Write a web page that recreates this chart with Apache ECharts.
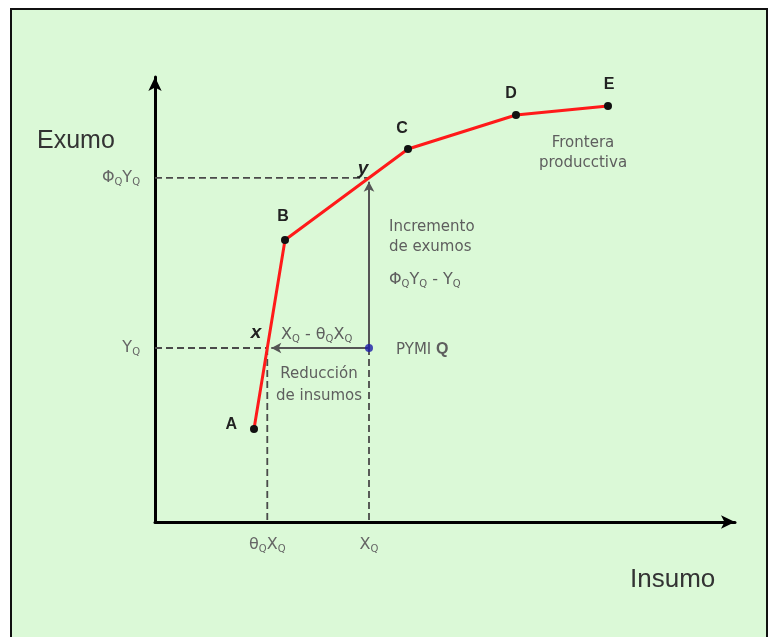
<!DOCTYPE html>
<html>
<head>
<meta charset="utf-8">
<script src="https://cdn.jsdelivr.net/npm/echarts@6/dist/echarts.min.js"></script>
<style>
  html, body { margin: 0; padding: 0; background: #fff; }
  #main { width: 772px; height: 637px; }
</style>
</head>
<body>
<div id="main"></div>
<script>
// frontera productiva (puntos A-E)
const frontNames = ['A', 'B', 'C', 'D', 'E'];
const frontX = [9.9, 13.0, 25.3, 36.1, 45.3];
const frontY = [9.3, 28.2, 37.3, 40.7, 41.6];
// PYMI Q
const pymiX = 21.4;
const pymiY = 17.4;

const FONT = '"Liberation Sans", Arial, sans-serif';
const FONT2 = '"DejaVu Sans", sans-serif';
const GREY = '#5e5e5e';

// punto x: frontera a la altura Y_Q ; punto y: frontera en X_Q
function xAtY(yv) {
  for (let i = 0; i < frontX.length - 1; i++) {
    if (yv >= frontY[i] && yv <= frontY[i + 1]) {
      let t = (yv - frontY[i]) / (frontY[i + 1] - frontY[i]);
      return frontX[i] + t * (frontX[i + 1] - frontX[i]);
    }
  }
}
function yAtX(xv) {
  for (let i = 0; i < frontX.length - 1; i++) {
    if (xv >= frontX[i] && xv <= frontX[i + 1]) {
      let t = (xv - frontX[i]) / (frontX[i + 1] - frontX[i]);
      return frontY[i] + t * (frontY[i + 1] - frontY[i]);
    }
  }
}
const thetaX = xAtY(pymiY);
const phiY = yAtX(pymiX);

// etiquetas de los ejes (texto con subíndice)
const xTickValues = [thetaX, pymiX];
const xTickLabels = ['{b|θ}{s|Q}{b|X}{s|Q}', '{b|X}{s|Q}'];
const yTickValues = [pymiY, phiY];
const yTickLabels = ['{b|Y}{s|Q}', '{b|Φ}{s|Q}{b|Y}{s|Q}'];

const subRich = {
  b: { fontSize: 16, color: '#666', fontFamily: FONT2, lineHeight: 20 },
  s: { fontSize: 10, color: '#666', fontFamily: FONT2, lineHeight: 20, padding: [9, 0, 0, 0] },
  n: { fontSize: 15, color: GREY, fontFamily: FONT2, lineHeight: 20 },
  q: { fontSize: 16, color: '#333', fontFamily: FONT, fontWeight: 'bold', lineHeight: 20 }
};

const labelOffsets = {
  A: { position: 'left', offset: [-8, -4] },
  B: { position: 'top', offset: [-2, -6] },
  C: { position: 'top', offset: [-6, -3] },
  D: { position: 'top', offset: [-5, -4] },
  E: { position: 'top', offset: [1, -4] }
};

let chartDom = document.getElementById('main');
let myChart = echarts.init(chartDom);

// líneas discontinuas de referencia
const dashSegments = [
  [[0, phiY], [pymiX, phiY]],
  [[0, pymiY], [thetaX, pymiY]],
  [[thetaX, pymiY], [thetaX, 0]],
  [[pymiX, pymiY], [pymiX, 0]]
];

function txt(x, y, text, extra) {
  return {
    type: 'text',
    z: 100,
    style: Object.assign({
      x: x, y: y, text: text, fill: GREY,
      font: '15px ' + FONT2, verticalAlign: 'middle'
    }, extra || {})
  };
}

let option = {
  backgroundColor: '#fff',
  animation: false,
  grid: { left: 155, right: 37, top: 77, bottom: 115 },
  xAxis: {
    type: 'value', min: 0, max: 58,
    splitLine: { show: false },
    axisTick: { show: false },
    axisLine: {
      symbol: ['none', 'arrow'], symbolSize: [10, 14],
      lineStyle: { color: '#000', width: 3 }
    },
    axisLabel: {
      customValues: xTickValues,
      margin: 13,
      formatter: v => xTickLabels[xTickValues.indexOf(v)] || '',
      rich: subRich
    }
  },
  yAxis: {
    type: 'value', min: 0, max: 44.5,
    splitLine: { show: false },
    axisTick: { show: false },
    axisLine: {
      symbol: ['none', 'arrow'], symbolSize: [10, 14],
      lineStyle: { color: '#000', width: 3 }
    },
    axisLabel: {
      customValues: yTickValues,
      margin: 15,
      formatter: v => yTickLabels[yTickValues.indexOf(v)] || '',
      rich: subRich
    }
  },
  graphic: [
    {
      type: 'rect', z: -10, silent: true,
      shape: { x: 11, y: 9, width: 756, height: 640 },
      style: { fill: '#dbf9d7', stroke: '#111', lineWidth: 2 }
    },
    txt(37, 141, 'Exumo', { font: '25px ' + FONT, fill: '#333' }),
    txt(630, 580, 'Insumo', { font: '26px ' + FONT, fill: '#333' }),
    txt(256, 333, 'x', { font: 'italic bold 19px ' + FONT, fill: '#222', align: 'center' }),
    txt(363, 169, 'y', { font: 'italic bold 19px ' + FONT, fill: '#222', align: 'center' }),
    txt(281, 335, '{b|X}{s|Q}{b| - θ}{s|Q}{b|X}{s|Q}', { rich: subRich }),
    txt(396, 350, '{n|PYMI }{q|Q}', { rich: subRich }),
    txt(319, 374, 'Reducción', { align: 'center' }),
    txt(319, 396, 'de insumos', { align: 'center' }),
    txt(389, 227, 'Incremento'),
    txt(389, 247, 'de exumos'),
    txt(389, 280, '{b|Φ}{s|Q}{b|Y}{s|Q}{b| - Y}{s|Q}', { rich: subRich }),
    txt(583, 143, 'Frontera', { align: 'center' }),
    txt(583, 163, 'producctiva', { align: 'center' })
  ],
  series: dashSegments.map(seg => ({
    type: 'line',
    data: seg,
    symbol: 'none',
    silent: true,
    z: 1,
    lineStyle: { color: '#4a4a4a', width: 1.8, type: [7, 4] }
  })).concat([
    {
      // flechas de reducción de insumos e incremento de exumos
      type: 'line',
      data: [],
      markLine: {
        silent: true,
        symbol: ['none', 'arrow'],
        symbolSize: [8, 10],
        label: { show: false },
        lineStyle: { color: '#555', width: 2, type: 'solid' },
        data: [
          [{ coord: [pymiX, pymiY] }, { coord: [thetaX + 0.4, pymiY] }],
          [{ coord: [pymiX, pymiY] }, { coord: [pymiX, phiY - 0.4] }]
        ]
      }
    },
    {
      name: 'Frontera productiva',
      type: 'line',
      z: 5,
      data: frontNames.map((n, i) => ({
        value: [frontX[i], frontY[i]],
        label: Object.assign({ show: true, formatter: n }, labelOffsets[n])
      })),
      symbol: 'circle',
      symbolSize: 8,
      itemStyle: { color: '#111' },
      lineStyle: { color: '#ff1a1a', width: 3 },
      label: {
        color: '#222', fontFamily: FONT, fontWeight: 'bold', fontSize: 16
      }
    },
    {
      name: 'PYMI Q',
      type: 'scatter',
      z: 6,
      data: [[pymiX, pymiY]],
      symbolSize: 8,
      itemStyle: { color: '#1c1ca8' }
    }
  ])
};

option && myChart.setOption(option);
</script>
</body>
</html>
